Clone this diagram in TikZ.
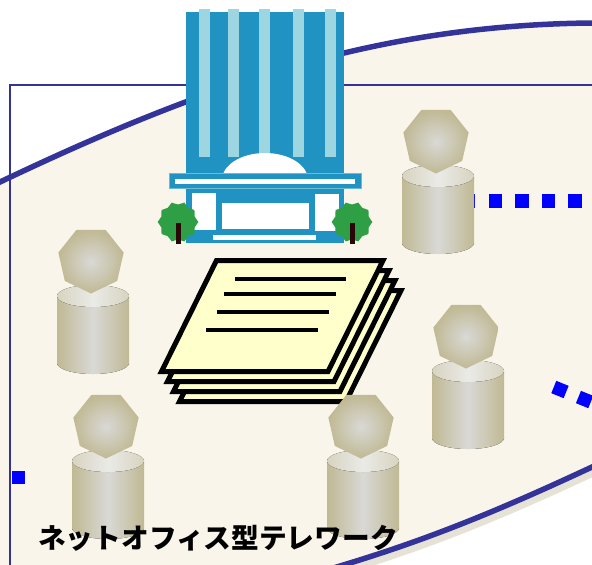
\documentclass[tikz,border=0pt]{standalone}
\usepackage{fontspec}
\usepackage{tikz}
\usetikzlibrary{shapes.geometric}
\newfontfamily\jpfont{Noto Sans CJK JP}

\definecolor{ringblue}{HTML}{333399}
\definecolor{cream}{HTML}{F9F5EA}
\definecolor{shadowgray}{HTML}{E6E3D6}
\definecolor{dotblue}{HTML}{0000FF}
\definecolor{bldblue}{HTML}{2193C3}
\definecolor{bldlight}{HTML}{9DD6E0}
\definecolor{treegreen}{HTML}{2E9F45}
\definecolor{trunkbrown}{HTML}{2B0606}
\definecolor{paperyellow}{HTML}{FFFFCC}
\definecolor{khaki}{HTML}{C0B994}
\definecolor{pale}{HTML}{D9D9D6}
\definecolor{capedge}{HTML}{D8D4C0}
\definecolor{cappale}{HTML}{EAEAE7}

\begin{document}
\begin{tikzpicture}[x=1pt, y=-1pt,
    dotline/.style={draw=dotblue, line width=13.3pt, dash pattern=on 13.3pt off 13.3pt},
    paper/.style={draw=black, fill=paperyellow, line width=5pt},
    paperline/.style={draw=black, line width=4pt},
    bodyshade/.style={left color=khaki, right color=khaki, middle color=pale},
    capshade/.style={left color=capedge, right color=capedge, middle color=cappale},
    head/.style={regular polygon, regular polygon sides=7, shape border rotate=180, minimum size=67pt, inner sep=0pt, inner color=pale, outer color=khaki},
    tree/.style={star, star points=10, star point ratio=0.86, minimum size=35pt, inner sep=0pt, fill=treegreen}]
    \useasboundingbox (0,0) rectangle (592,565);
    \clip (0,0) rectangle (592,565);

    % office area (shadow, then the ring)
    \fill[shadowgray, xshift=3pt, yshift=-9pt] (-40,201) -- (0,182) .. controls (210,82) and (380,25) .. (592,23) -- (650,22) -- (650,440) -- (592,467) .. controls (502,509) and (430,539) .. (340,566) -- (280,585) -- (-40,600) -- cycle;
    \filldraw[fill=cream, draw=ringblue, line width=5.5pt] (-40,201) -- (0,182) .. controls (210,82) and (380,25) .. (592,23) -- (650,22) -- (650,440) -- (592,467) .. controls (502,509) and (430,539) .. (340,566) -- (280,585) -- (-40,600) -- cycle;
    \draw[ringblue, line width=2pt] (10,600) -- (10,85) -- (600,85);

    % dotted links
    \coordinate (linkA) at (462,201);
    \coordinate (linkAend) at (640,201);
    \coordinate (linkB) at (553.8,387);
    \coordinate (linkBend) at (640,422);
    \coordinate (linkC) at (12,477.5);
    \coordinate (linkCend) at (25.3,477.5);
    \draw[dotline] (linkA) -- (linkAend);
    \draw[dotline] (linkB) -- (linkBend);
    \draw[dotline] (linkC) -- (linkCend);

    % office building
    \fill[bldblue] (186,12) rectangle (344,243);
    \fill[bldlight] (199,9) rectangle (210,157);
    \fill[bldlight] (228,9) rectangle (239,157);
    \fill[bldlight] (259,9) rectangle (270,157);
    \fill[bldlight] (293,9) rectangle (304,157);
    \fill[bldlight] (325,9) rectangle (336,157);
    \fill[white] (265,180) ellipse (43 and 27);
    \fill[bldblue] (186,188) rectangle (344,243);
    \filldraw[fill=bldblue, draw=bldlight!60!bldblue, line width=0.8pt] (169,173) rectangle (361,188);
    \fill[white] (175,179) rectangle (355,183.5);
    \fill[white] (192,193) rectangle (216,230);
    \fill[white] (315,194) rectangle (339,231);
    \fill[white] (222,203) rectangle (309,229);
    \fill[white] (213,235) rectangle (316,240);
    \node[tree] (treeleft) at (178,222) {};
    \fill[trunkbrown] (176,223) rectangle (181,244);
    \node[tree] (treeright) at (352,222) {};
    \fill[trunkbrown] (350,223) rectangle (355,244);

    % stack of documents
    \draw[paper] (234.5,290.5) -- (401,290.5) -- (346,401.5) -- (179.5,401.5) -- cycle;
    \draw[paper] (228.5,280.5) -- (395,280.5) -- (340,391.5) -- (173.5,391.5) -- cycle;
    \draw[paper] (222.5,270.5) -- (389,270.5) -- (334,381.5) -- (167.5,381.5) -- cycle;
    \draw[paper] (216.5,260.5) -- (383,260.5) -- (328,371.5) -- (161.5,371.5) -- cycle;
    \draw[paperline] (235,279) -- (346,279);
    \draw[paperline] (224,294) -- (336,294);
    \draw[paperline] (217,312) -- (329,312);
    \draw[paperline] (206,330) -- (318,330);

    % workers
    \fill[bodyshade] (438,243) ellipse (36 and 11);
    \fill[bodyshade] (402,176) rectangle (474,243);
    \fill[capshade] (438,176) ellipse (36 and 11);
    \node[head] (worker1) at (436,140) {};

    \fill[bodyshade] (93,363) ellipse (36 and 11);
    \fill[bodyshade] (57,296) rectangle (129,363);
    \fill[capshade] (93,296) ellipse (36 and 11);
    \node[head] (worker2) at (91,260) {};

    \fill[bodyshade] (468,438) ellipse (36 and 11);
    \fill[bodyshade] (432,371) rectangle (504,438);
    \fill[capshade] (468,371) ellipse (36 and 11);
    \node[head] (worker3) at (466,335) {};

    \fill[bodyshade] (108,528) ellipse (36 and 11);
    \fill[bodyshade] (72,461) rectangle (144,528);
    \fill[capshade] (108,461) ellipse (36 and 11);
    \node[head] (worker4) at (106,425) {};

    \fill[bodyshade] (363,528) ellipse (36 and 11);
    \fill[bodyshade] (327,461) rectangle (399,528);
    \fill[capshade] (363,461) ellipse (36 and 11);
    \node[head] (worker5) at (361,425) {};

    \node[font=\jpfont\bfseries\fontsize{27.7}{28}\selectfont, anchor=base west, inner sep=0pt] (caption) at (38,548) {ネットオフィス型テレワーク};
\end{tikzpicture}
\end{document}
